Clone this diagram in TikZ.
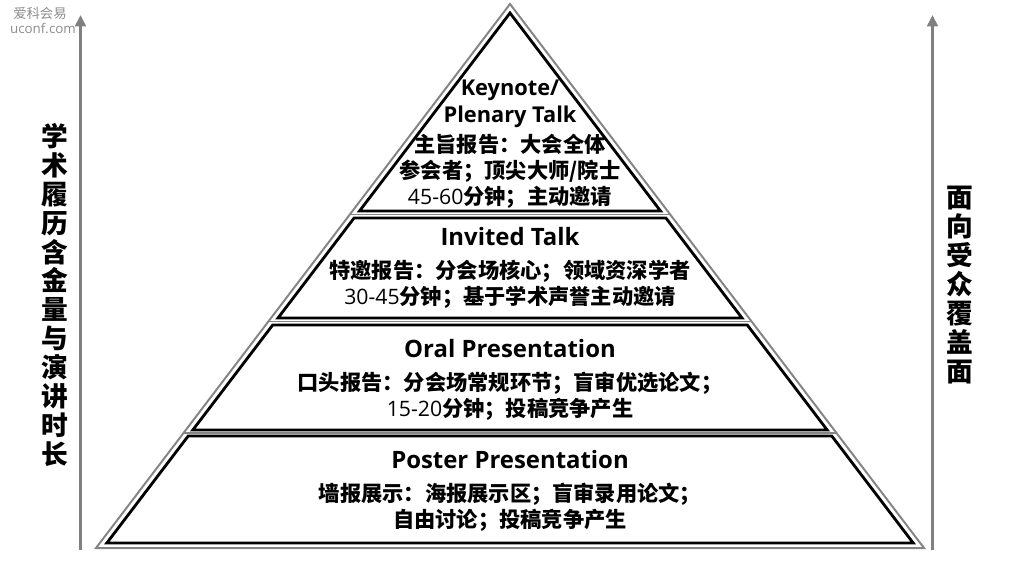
\documentclass[tikz,border=0pt]{standalone}
\usepackage{fontspec}
\usetikzlibrary{arrows.meta}
\setmainfont{Open Sans}
\newfontfamily\cjk{Noto Sans CJK SC}
\newfontfamily\latin{Open Sans}
\newcommand{\zh}{\cjk\bfseries}
\newcommand{\nm}[1]{{\latin\mdseries #1}}

\begin{document}
\begin{tikzpicture}[x=0.025cm,y=-0.025cm,
  tier/.style={draw=black,line width=2pt},
  rim/.style={draw=black!48,line width=1.4pt},
  axis/.style={draw=black!50,line width=2.1pt,-{Triangle[length=8pt,width=7.5pt]}},
  title/.style={font=\bfseries\fontsize{17}{19.2}\selectfont,align=center,inner sep=0pt},
  body/.style={font=\zh\fontsize{15.1}{18.5}\selectfont,align=center,inner sep=0pt},
  side/.style={font=\zh\fontsize{19}{20.6}\selectfont,align=center,inner sep=0pt},
  wmark/.style={font=\cjk\fontsize{9.5}{11}\selectfont,text=black!45,inner sep=0pt}]
\useasboundingbox (0,0) rectangle (1017,562);

\draw [rim] (510,4) -- (924,548) -- (96,548) -- cycle;
\draw [rim] (349.8,214.5) -- (670.2,214.5);
\draw [rim] (268.4,321.5) -- (751.6,321.5);
\draw [rim] (183.5,433) -- (836.5,433);

\draw [tier] (510,13) -- (660.5,211) -- (359.5,211) -- cycle;
\draw [tier] (354.1,218) -- (665.9,218) -- (742,318) -- (278,318) -- cycle;
\draw [tier] (272.7,325) -- (747.3,325) -- (827.2,430) -- (192.8,430) -- cycle;
\draw [tier] (188.2,436) -- (831.8,436) -- (913.2,543) -- (106.8,543) -- cycle;

\coordinate (lfoot) at (80.5,550);
\coordinate (lhead) at (80.5,15);
\coordinate (rfoot) at (932.5,550);
\coordinate (rhead) at (932.5,15);
\draw [axis] (lfoot) -- (lhead);
\draw [axis] (rfoot) -- (rhead);

\node [title,font=\bfseries\fontsize{15.5}{19.2}\selectfont] (keytitle) at (510,104) {Keynote/\\Plenary Talk};
\node [body] (keybody) at (510,171) {主旨报告：大会全体\\参会者；顶尖大师/院士\\\nm{45-60}分钟；主动邀请};
\node [title] (invtitle) at (510,237) {Invited Talk};
\node [body] (invbody) at (510,284) {特邀报告：分会场核心；领域资深学者\\\nm{30-45}分钟；基于学术声誉主动邀请};
\node [title] (oraltitle) at (510,349) {Oral Presentation};
\node [body] (oralbody) at (510,396) {口头报告：分会场常规环节；盲审优选论文；\\\nm{15-20}分钟；投稿竞争产生};
\node [title] (postitle) at (510,460) {Poster Presentation};
\node [body] (posbody) at (510,507) {墙报展示：海报展示区；盲审录用论文；\\自由讨论；投稿竞争产生};

\node [side] (lefttext) at (55,295) {学\\术\\履\\历\\含\\金\\量\\与\\演\\讲\\时\\长};
\node [side] (righttext) at (960,285) {面\\向\\受\\众\\覆\\盖\\面};

\node [wmark] (mark1) at (40,13) {爱科会易};
\node [wmark,font=\latin\fontsize{9.5}{11}\selectfont] (mark2) at (43,28) {uconf.com};
\end{tikzpicture}
\end{document}
